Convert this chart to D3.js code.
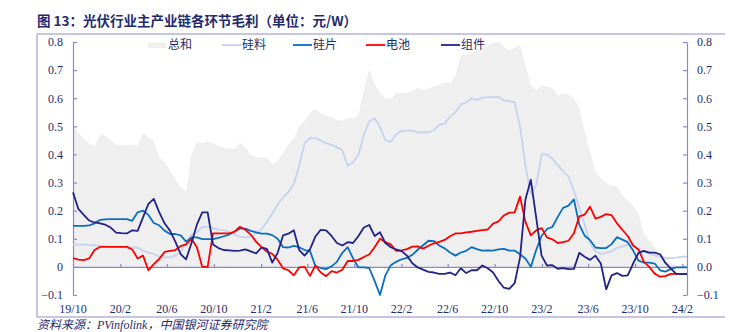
<!DOCTYPE html>
<html><head><meta charset="utf-8">
<script src="https://cdn.jsdelivr.net/npm/d3@7"></script>
<style>body{margin:0;background:#fff;} svg{display:block;}</style>
</head><body>
<svg id="c" width="740" height="332"></svg>
<script>
// ---- data (元/W), biweekly observations starting 2019-10-01 ----
const startDate = "2019-10-01";
const stepDays = 14;
const seriesNames = ["总和", "硅料", "硅片", "电池", "组件"];
const total = [
0.505,0.475,0.458,0.438,0.43,0.47,0.466,0.45,0.434,0.434,
0.434,0.435,0.43,0.477,0.46,0.45,0.39,0.372,0.345,0.31,
0.283,0.27,0.4,0.445,0.44,0.445,0.44,0.43,0.424,0.42,
0.42,0.442,0.426,0.4,0.39,0.39,0.387,0.365,0.378,0.405,
0.436,0.455,0.5,0.52,0.548,0.562,0.547,0.538,0.533,0.523,
0.52,0.53,0.528,0.541,0.63,0.7,0.65,0.618,0.6,0.596,
0.618,0.618,0.62,0.626,0.638,0.628,0.635,0.642,0.648,0.656,
0.652,0.68,0.754,0.754,0.763,0.769,0.78,0.785,0.797,0.802,
0.782,0.77,0.778,0.79,0.72,0.645,0.63,0.645,0.643,0.635,
0.608,0.618,0.613,0.598,0.567,0.48,0.41,0.34,0.315,0.3,
0.288,0.288,0.255,0.235,0.218,0.19,0.118,0.093,0.068,0.037,
0.022,0.012,0.005,0.0,-0.005];
const polysilicon = [
0.079,0.079,0.079,0.078,0.077,0.075,0.073,0.072,0.071,0.07,
0.069,0.069,0.068,0.058,0.051,0.046,0.037,0.034,0.034,0.04,
0.054,0.082,0.115,0.123,0.142,0.143,0.138,0.132,0.131,0.125,
0.115,0.107,0.105,0.108,0.118,0.135,0.16,0.19,0.222,0.247,
0.266,0.295,0.36,0.44,0.458,0.458,0.45,0.44,0.434,0.426,
0.415,0.36,0.372,0.399,0.47,0.518,0.528,0.499,0.451,0.445,
0.472,0.483,0.485,0.485,0.478,0.479,0.479,0.486,0.505,0.51,
0.534,0.55,0.578,0.585,0.6,0.594,0.602,0.604,0.604,0.604,
0.592,0.59,0.585,0.5,0.36,0.26,0.29,0.4,0.4,0.385,
0.362,0.34,0.322,0.27,0.21,0.15,0.085,0.055,0.046,0.05,
0.056,0.067,0.073,0.078,0.078,0.062,0.053,0.047,0.041,0.037,
0.032,0.031,0.033,0.036,0.036];
const wafer = [
0.146,0.146,0.146,0.148,0.155,0.167,0.169,0.17,0.17,0.17,
0.17,0.164,0.194,0.2,0.185,0.156,0.148,0.129,0.117,0.117,
0.112,0.09,0.105,0.105,0.099,0.099,0.099,0.103,0.109,0.115,
0.126,0.136,0.136,0.128,0.123,0.118,0.118,0.113,0.1,0.07,
0.069,0.075,0.07,0.06,0.057,0.003,-0.004,-0.008,0.002,0.018,
0.05,0.07,0.03,-0.002,-0.002,-0.004,-0.05,-0.1,-0.03,0.006,
0.018,0.027,0.032,0.043,0.061,0.077,0.093,0.092,0.076,0.066,
0.051,0.04,0.051,0.057,0.07,0.063,0.058,0.059,0.058,0.062,
0.064,0.058,0.058,0.045,0.03,0.0,0.06,0.11,0.135,0.142,
0.178,0.21,0.218,0.24,0.15,0.111,0.095,0.069,0.067,0.067,
0.081,0.106,0.097,0.088,0.058,0.022,0.015,0.015,0.012,-0.012,
-0.017,-0.007,-0.002,-0.002,-0.002];
const cell = [
0.031,0.026,0.024,0.03,0.06,0.071,0.071,0.071,0.071,0.071,
0.071,0.062,0.03,0.04,-0.012,0.01,0.028,0.053,0.057,0.06,
0.074,0.08,0.1,0.07,0.0,0.0,0.119,0.119,0.119,0.119,
0.125,0.143,0.132,0.115,0.09,0.07,0.055,0.046,0.025,-0.005,
-0.012,-0.03,-0.002,0.0,-0.032,0.005,-0.02,-0.033,-0.015,-0.02,
-0.01,0.021,0.021,0.025,0.035,0.044,0.07,0.1,0.088,0.08,
0.057,0.059,0.063,0.072,0.073,0.065,0.075,0.084,0.089,0.096,
0.109,0.119,0.119,0.123,0.125,0.128,0.131,0.133,0.154,0.162,
0.183,0.193,0.194,0.25,0.16,0.112,0.13,0.138,0.105,0.098,
0.085,0.088,0.093,0.12,0.18,0.186,0.214,0.172,0.178,0.188,
0.184,0.155,0.132,0.11,0.076,0.062,0.018,0.0,-0.024,-0.035,
-0.033,-0.025,-0.025,-0.026,-0.026];
const moduleMargin = [
0.265,0.206,0.185,0.165,0.158,0.155,0.15,0.14,0.122,0.12,
0.119,0.13,0.128,0.176,0.224,0.242,0.195,0.155,0.129,0.09,
0.045,0.027,0.085,0.15,0.194,0.194,0.08,0.067,0.06,0.059,
0.057,0.058,0.062,0.055,0.048,0.069,0.064,0.015,0.05,0.112,
0.118,0.13,0.06,0.04,0.062,0.108,0.132,0.13,0.11,0.085,
0.076,0.088,0.085,0.11,0.14,0.149,0.11,0.123,0.085,0.07,
0.062,0.056,0.04,0.013,-0.002,-0.01,-0.018,-0.02,-0.025,-0.025,
-0.02,-0.03,-0.005,-0.022,-0.012,-0.012,0.005,-0.005,-0.02,-0.05,
-0.074,-0.078,-0.058,0.033,0.24,0.31,0.175,0.04,0.005,0.006,
-0.007,-0.004,-0.008,-0.007,0.05,0.036,0.025,0.04,0.012,-0.08,
-0.03,-0.022,-0.032,-0.03,0.012,0.05,0.057,0.051,0.051,0.045,
0.014,-0.006,-0.025,-0.026,-0.026];
const xTickLabels = ["19/10","20/2","20/6","20/10","21/2","21/6","21/10","22/2","22/6","22/10","23/2","23/6","23/10","24/2"];
const yTickValues = [-0.1,0,0.1,0.2,0.3,0.4,0.5,0.6,0.7,0.8];
const titleText = "图 13：光伏行业主产业链各环节毛利（单位：元/W）";
const sourceText = "资料来源：PVinfolink，中国银河证券研究院";

// ---- drawing ----
const navy = "#1f2a6e";
const axisCol = "#8a8ac8";
const colors = {"总和": "#efefef", "硅料": "#c6d2ef", "硅片": "#0b6fc0", "电池": "#ff0000", "组件": "#232386"};

const t0 = d3.isoParse(startDate);
const dates = total.map((_, i) => d3.timeDay.offset(t0, i * stepDays));
const tickDates = xTickLabels.map(s => { const [yy, m] = s.split("/").map(Number); return new Date(2000 + yy, m - 1, 1); });

const x = d3.scaleTime().domain([dates[0], dates[dates.length - 1]]).range([73, 687]);
const y = d3.scaleLinear().domain([-0.1, 0.8]).range([295, 42]);

const svg = d3.select("#c");
const serif = "'Liberation Serif','Times New Roman',serif";
const cjk = "'Noto Sans CJK SC','Noto Sans',sans-serif";

// frame
const frame = svg.append("g").attr("stroke", "#b4b4dc").attr("stroke-width", 1.5).attr("fill", "none");
frame.append("path").attr("d", "M37,34H725");
frame.append("path").attr("d", "M37,34V317H725");

// title
svg.append("text").attr("x", 37).attr("y", 26).attr("fill", navy)
  .attr("font-family", cjk).attr("font-weight", "bold").attr("font-size", 13.5).text(titleText);
// source
svg.append("text").attr("x", 37).attr("y", 329).attr("fill", navy)
  .attr("font-family", serif + ",'Noto Sans CJK SC'").attr("font-style", "italic").attr("font-size", 12).text(sourceText);

// total area
const area = d3.area().x((d, i) => x(dates[i])).y0(y(0)).y1(d => y(d));
svg.append("path").datum(total).attr("d", area).attr("fill", colors["总和"]);

// axes
function styleAxis(g) {
  g.select(".domain").attr("stroke", axisCol).attr("stroke-width", 1.2);
  g.selectAll(".tick line").attr("stroke", axisCol).attr("stroke-width", 1.2);
  g.selectAll(".tick text").attr("fill", navy).attr("font-family", serif).attr("font-size", 12);
}
const fmtL = v => v === 0 ? "0" : (v < 0 ? "\u2212" + Math.abs(v).toFixed(1) : v.toFixed(1));
const fmtR = v => v < 0 ? "\u2212" + Math.abs(v).toFixed(1) : v.toFixed(1);
svg.append("g").attr("transform", "translate(73,0)")
  .call(d3.axisLeft(y).tickValues(yTickValues).tickSize(-4).tickSizeOuter(0).tickPadding(10).tickFormat(fmtL))
  .call(styleAxis);
svg.append("g").attr("transform", "translate(687,0)")
  .call(d3.axisRight(y).tickValues(yTickValues).tickSize(-4).tickSizeOuter(0).tickPadding(10).tickFormat(fmtR))
  .call(styleAxis);
svg.append("g").attr("transform", `translate(0,${y(0)})`)
  .call(d3.axisBottom(x).tickValues(tickDates).tickSize(-3).tickSizeOuter(0).tickFormat(""))
  .call(styleAxis);
svg.append("g").selectAll("text").data(tickDates).join("text")
  .attr("x", d => x(d)).attr("y", 313).attr("text-anchor", "middle")
  .attr("fill", navy).attr("font-family", serif).attr("font-size", 12)
  .text((d, i) => xTickLabels[i]);

// lines
const line = d3.line().x((d, i) => x(dates[i])).y(d => y(d));
const lineSeries = [["硅料", polysilicon], ["硅片", wafer], ["电池", cell], ["组件", moduleMargin]];
svg.append("g").selectAll("path").data(lineSeries).join("path")
  .attr("d", d => line(d[1])).attr("fill", "none")
  .attr("stroke", d => colors[d[0]]).attr("stroke-width", 1.8).attr("stroke-linejoin", "round");

// legend
const legX = [148, 222, 293, 366, 441];
const leg = svg.append("g");
seriesNames.forEach((name, i) => {
  const gx = legX[i];
  if (i === 0) {
    leg.append("rect").attr("x", gx).attr("y", 42.5).attr("width", 18).attr("height", 5.5).attr("fill", colors[name]);
  } else {
    leg.append("line").attr("x1", gx).attr("x2", gx + 19).attr("y1", 45).attr("y2", 45)
      .attr("stroke", colors[name]).attr("stroke-width", 1.8);
  }
  leg.append("text").attr("x", gx + 20).attr("y", 49).attr("fill", navy)
    .attr("font-family", cjk).attr("font-size", 12).text(name);
});
</script>
</body></html>
